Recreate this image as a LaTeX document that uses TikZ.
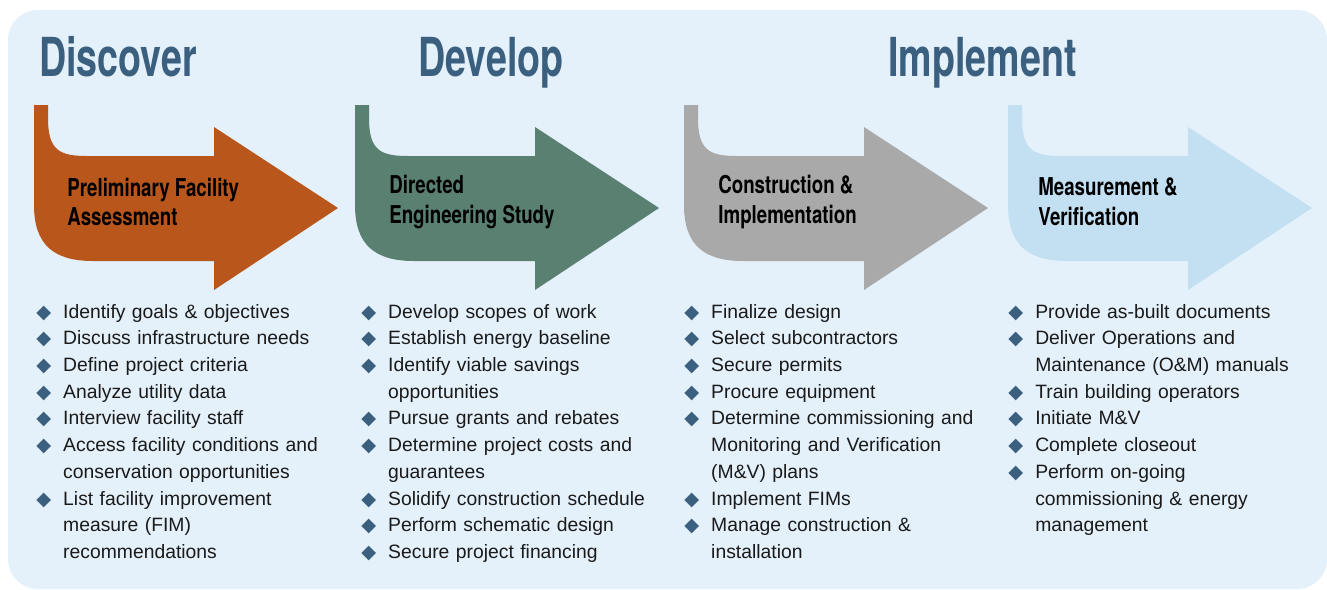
\documentclass[tikz,border=0pt]{standalone}
\usepackage{fontspec}
\setmainfont{Liberation Sans}
\newfontfamily\headfont[FakeStretch=0.70]{TeX Gyre Heros}
\newfontfamily\labelfont[FakeStretch=0.76]{TeX Gyre Heros}
\newfontfamily\symfont{DejaVu Sans}
\usetikzlibrary{positioning}

\definecolor{panelblue}{HTML}{E4F1FA}
\definecolor{titleblue}{HTML}{3A5F7F}
\definecolor{assessorange}{HTML}{B9561B}
\definecolor{studygreen}{HTML}{5A8072}
\definecolor{buildgrey}{HTML}{A9A9A9}
\definecolor{verifyblue}{HTML}{C3E0F3}
\definecolor{textblack}{HTML}{1A1A1A}

\newcommand{\itm}{\par\hangindent=15.3pt\hangafter=1\noindent\makebox[15.3pt][l]{\textcolor{titleblue}{\symfont\fontsize{11}{11}\selectfont ◆}}}

\tikzset{
  phasetitle/.style={anchor=base west, inner sep=0pt, text=titleblue,
    font=\headfont\bfseries\fontsize{30.6}{32}\selectfont},
  arrowlabel/.style={anchor=west, inner sep=0pt, align=left, text=black,
    font=\labelfont\bfseries\fontsize{14}{17}\selectfont},
  listtext/.style={anchor=north west, inner sep=0pt, text width=6.2cm,
    text=textblack, font=\fontsize{11}{15.2}\selectfont\raggedright},
}

\begin{document}
\begin{tikzpicture}[x=0.02cm, y=-0.02cm]
        \useasboundingbox (0,0) rectangle (1327,589);
        \fill[panelblue, rounded corners=17pt] (8,10) rectangle (1327,589);

        \node[phasetitle] (discover) at (39,76) {Discover};
        \node[phasetitle] (develop) at (418,76) {Develop};
        \node[phasetitle] (implement) at (888,76) {Implement};

        % phase arrows
        \begin{scope}[shift={(34,0)}]
        \fill[assessorange] (0,105) -- (14,105) -- (14,118) .. controls (14,150) and (25,156) .. (53,156)
          -- (180,156) -- (180,127) -- (304,208) -- (180,290) -- (180,261) -- (59,261)
          .. controls (20,261) and (0,245) .. (0,205) -- cycle;
        \end{scope}
        \begin{scope}[shift={(355,0)}]
        \fill[studygreen] (0,105) -- (14,105) -- (14,118) .. controls (14,150) and (25,156) .. (53,156)
          -- (180,156) -- (180,127) -- (304,208) -- (180,290) -- (180,261) -- (59,261)
          .. controls (20,261) and (0,245) .. (0,205) -- cycle;
        \end{scope}
        \begin{scope}[shift={(684,0)}]
        \fill[buildgrey] (0,105) -- (14,105) -- (14,118) .. controls (14,150) and (25,156) .. (53,156)
          -- (180,156) -- (180,127) -- (304,208) -- (180,290) -- (180,261) -- (59,261)
          .. controls (20,261) and (0,245) .. (0,205) -- cycle;
        \end{scope}
        \begin{scope}[shift={(1008,0)}]
        \fill[verifyblue] (0,105) -- (14,105) -- (14,118) .. controls (14,150) and (25,156) .. (53,156)
          -- (180,156) -- (180,127) -- (304,208) -- (180,290) -- (180,261) -- (59,261)
          .. controls (20,261) and (0,245) .. (0,205) -- cycle;
        \end{scope}

        \node[arrowlabel] (pfa) at (67,202) {Preliminary Facility\\Assessment};
        \node[arrowlabel] (des) at (389,202) {Directed\\Engineering Study};
        \node[arrowlabel] (ci) at (718,202) {Construction \&\\Implementation};
        \node[arrowlabel] (mv) at (1038,202) {Measurement \&\\Verification};

        % task lists
        \node[listtext] (discoverlist) at (36,291) {\itm Identify goals \& objectives
          \itm Discuss infrastructure needs
          \itm Define project criteria
          \itm Analyze utility data
          \itm Interview facility staff
          \itm Access facility conditions and\newline conservation opportunities
          \itm List facility improvement\newline measure (FIM)\newline recommendations\par};
        \node[listtext] (developlist) at (361,291) {\itm Develop scopes of work
          \itm Establish energy baseline
          \itm Identify viable savings\newline opportunities
          \itm Pursue grants and rebates
          \itm Determine project costs and\newline guarantees
          \itm Solidify construction schedule
          \itm Perform schematic design
          \itm Secure project financing\par};
        \node[listtext] (buildlist) at (684,291) {\itm Finalize design
          \itm Select subcontractors
          \itm Secure permits
          \itm Procure equipment
          \itm Determine commissioning and\newline Monitoring and Verification\newline (M\&V) plans
          \itm Implement FIMs
          \itm Manage construction \&\newline installation\par};
        \node[listtext] (verifylist) at (1008,291) {\itm Provide as-built documents
          \itm Deliver Operations and\newline Maintenance (O\&M) manuals
          \itm Train building operators
          \itm Initiate M\&V
          \itm Complete closeout
          \itm Perform on-going\newline commissioning \& energy\newline management\par};
      \end{tikzpicture}
\end{document}
